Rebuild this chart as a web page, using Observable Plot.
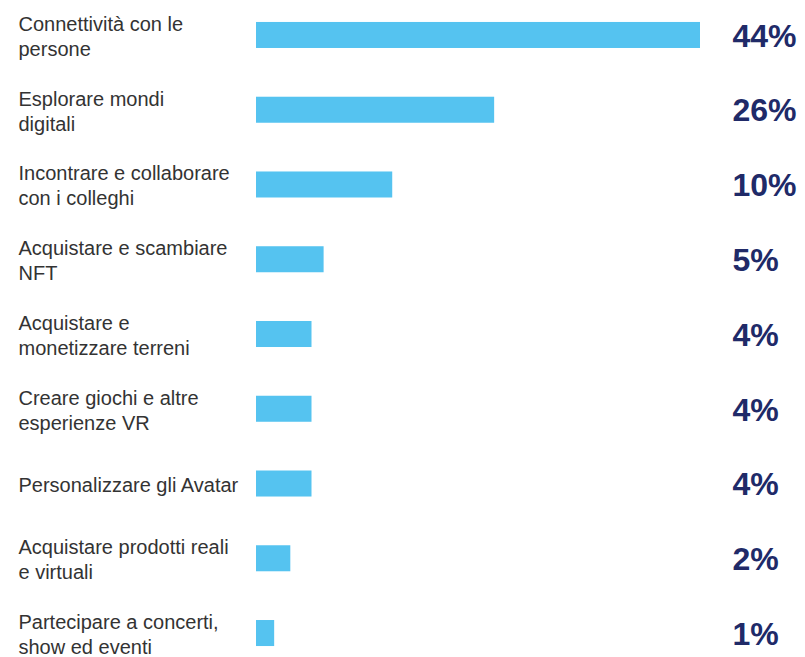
<!DOCTYPE html>
<html>
<head>
<meta charset="utf-8">
<script src="https://cdn.jsdelivr.net/npm/d3@7"></script>
<script src="https://cdn.jsdelivr.net/npm/@observablehq/plot@0.6"></script>
<style>
  html, body { margin: 0; padding: 0; background: #fff; }
  #chart { width: 805px; height: 657px; }
</style>
</head>
<body>
<div id="chart"></div>
<script>
const categories = [
  "Connettività con le\npersone",
  "Esplorare mondi\ndigitali",
  "Incontrare e collaborare\ncon i colleghi",
  "Acquistare e scambiare\nNFT",
  "Acquistare e\nmonetizzare terreni",
  "Creare giochi e altre\nesperienze VR",
  "Personalizzare gli Avatar",
  "Acquistare prodotti reali\ne virtuali",
  "Partecipare a concerti,\nshow ed eventi"
];
// bar lengths as drawn in the picture (same units as the percentages, 44 = longest bar)
const barLengths = [44, 23.6, 13.5, 6.7, 5.5, 5.5, 5.5, 3.4, 1.8];
// printed values
const shares = ["44%", "26%", "10%", "5%", "4%", "4%", "4%", "2%", "1%"];

const data = categories.map((c, i) => ({cat: c, len: barLengths[i], label: shares[i]}));

const chart = Plot.plot({
  width: 805,
  height: 657,
  marginLeft: 256,
  marginRight: 105,
  marginTop: 0,
  marginBottom: 0,
  style: {fontFamily: "'Liberation Sans', Arial, sans-serif", background: "#fff"},
  x: {domain: [0, 44], axis: null},
  y: {domain: categories, range: [-2.4, 670.4], paddingInner: 0.652, paddingOuter: 0.326, round: false, axis: null},
  marks: [
    Plot.barX(data, {y: "cat", x: "len", fill: "#55c3f0"}),
    Plot.text(data, {
      y: "cat", text: "cat", frameAnchor: "left", dx: -238, textAnchor: "start",
      fontSize: 20, lineHeight: 1.25, fill: "#333333"
    }),
    Plot.text(data, {
      y: "cat", text: "label", frameAnchor: "right", dx: 32, dy: 1, textAnchor: "start",
      fontSize: 32, fontWeight: "bold", fill: "#202a68"
    })
  ]
});
document.getElementById("chart").appendChild(chart);
</script>
</body>
</html>
